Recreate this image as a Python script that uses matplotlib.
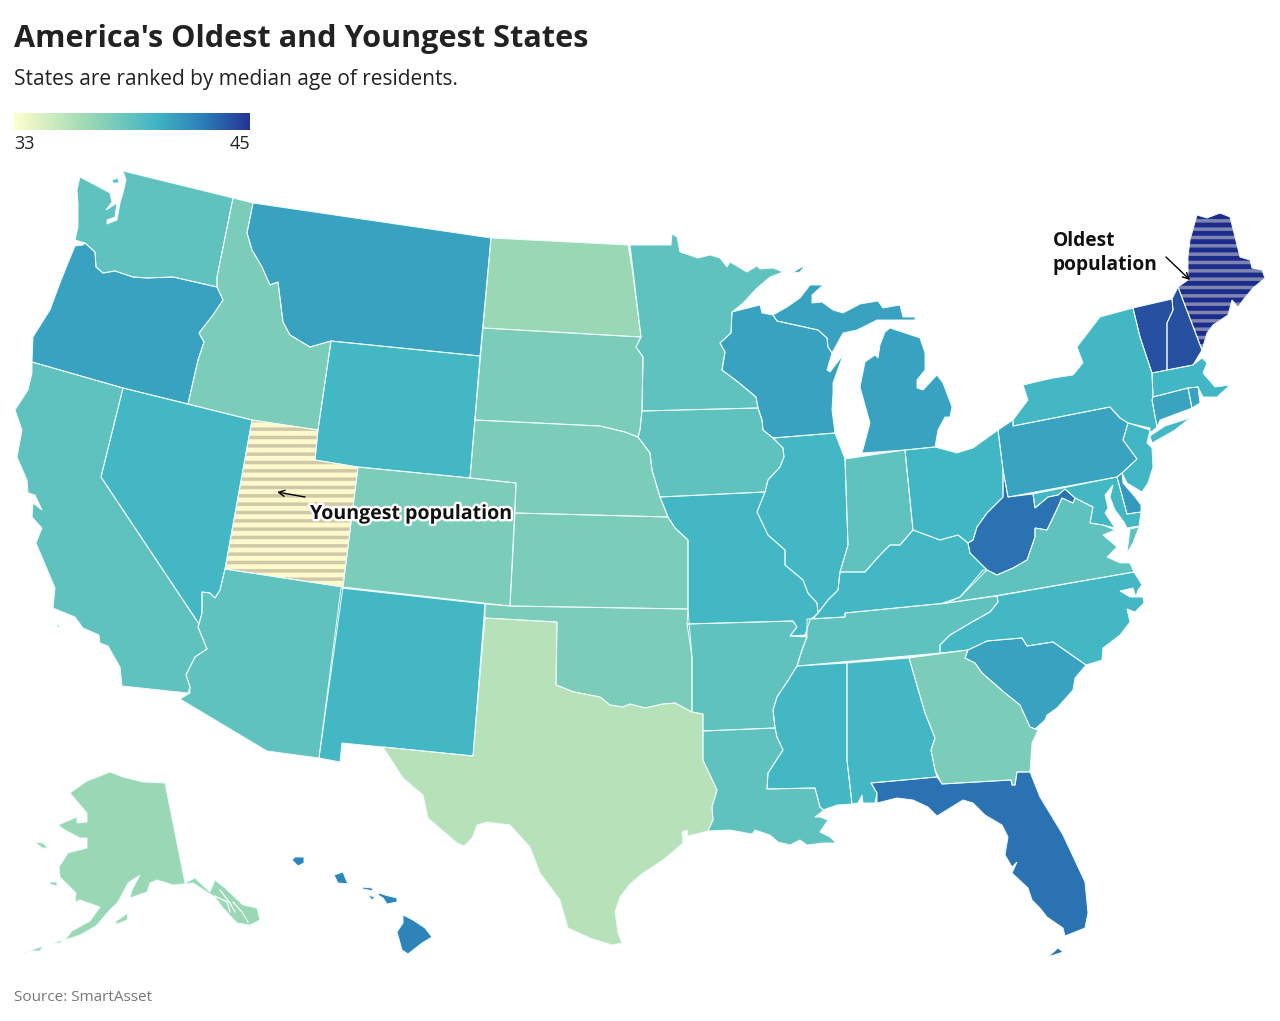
import numpy as np
import matplotlib
matplotlib.use('Agg')
import matplotlib.pyplot as plt
import matplotlib.patheffects as pe
from matplotlib.colors import LinearSegmentedColormap, Normalize
from matplotlib.patches import Polygon

plt.rcParams['font.family'] = ['Open Sans', 'DejaVu Sans']
plt.rcParams['hatch.linewidth'] = 2.5

# Median age per state
state_names = ['WA', 'OR', 'CA', 'NV', 'ID', 'MT', 'WY', 'UT', 'AZ', 'CO', 'NM', 'ND', 'SD', 'NE', 'KS', 'OK',
               'TX', 'MN', 'IA', 'MO', 'AR', 'LA', 'WI', 'IL', 'MI', 'IN', 'OH', 'KY', 'TN', 'MS', 'AL', 'GA',
               'FL', 'SC', 'NC', 'VA', 'WV', 'MD', 'DE', 'PA', 'NJ', 'NY', 'CT', 'RI', 'MA', 'VT', 'NH', 'ME',
               'AK', 'HI']
median_age = [39.0, 41.1, 39.0, 40.1, 38.0, 41.1, 40.1, 33.0, 39.0, 38.0, 40.1, 36.9, 38.0, 38.0, 38.0, 38.0,
              35.8, 39.0, 39.0, 40.1, 39.0, 39.0, 41.1, 40.1, 41.1, 39.0, 40.2, 40.1, 39.0, 40.1, 40.1, 38.0,
              43.0, 41.1, 40.1, 39.0, 43.0, 40.1, 41.5, 41.0, 40.2, 40.1, 41.0, 41.0, 40.2, 44.1, 44.1, 45.0,
              36.9, 42.4]

legend_min = 33
legend_max = 45
hatched_fill = {'UT': ('#fff9cb', '#cfc9a9'), 'ME': ('#1c2c8c', '#8085b0')}

# State outlines in reference pixels (no geo data available offline)
outlines = {
    'WA': [[(80, 177), (110, 193), (112, 202), (106, 210), (117, 203), (115, 217), (107, 220), (107, 224), (117, 220),
            (120, 203), (123, 193), (126, 180), (123, 171), (233, 198), (217, 277), (217, 287), (173, 277), (147, 278),
            (133, 277), (115, 271), (103, 273), (96, 267), (95, 252), (85, 243), (75, 240), (78, 227), (78, 203),
            (77, 190)],
           [(112, 180), (118, 178), (119, 183), (113, 183)]],
    'OR': [[(75, 246), (83, 245), (85, 243), (95, 252), (96, 267), (103, 273), (115, 271), (133, 277), (147, 278),
            (173, 277), (217, 287), (223, 300), (213, 315), (199, 333), (204, 342), (198, 360), (188, 404), (123, 388),
            (32, 362), (33, 337), (50, 310), (60, 283), (68, 263)]],
    'CA': [[(32, 362), (123, 388), (101, 477), (199, 624), (198, 627), (207, 649), (195, 657), (186, 675), (190, 687),
            (188, 693), (122, 686), (120, 667), (108, 646), (100, 643), (99, 635), (83, 628), (75, 617), (53, 608),
            (55, 588), (36, 543), (42, 528), (32, 517), (33, 503), (42, 510), (35, 495), (28, 493), (27, 480), (17, 457),
            (22, 430), (15, 410), (28, 390), (32, 373)],
           [(57, 625), (60, 625), (58, 628)]],
    'NV': [[(123, 388), (252, 420), (225, 569), (220, 590), (215, 598), (210, 593), (202, 592), (202, 613), (199, 624),
            (101, 477)]],
    'ID': [[(233, 198), (253, 203), (247, 233), (252, 250), (262, 267), (270, 285), (278, 282), (283, 322), (290, 335),
            (310, 347), (331, 341), (318, 430), (252, 420), (188, 404), (198, 360), (204, 342), (199, 333), (213, 315),
            (223, 300), (217, 287), (217, 277)]],
    'MT': [[(253, 203), (491, 238), (480, 356), (331, 341), (310, 347), (290, 335), (283, 322), (278, 282), (270, 285),
            (262, 267), (252, 250), (247, 233)]],
    'WY': [[(331, 341), (480, 356), (470, 478), (358, 467), (315, 460), (318, 430)]],
    'UT': [[(252, 420), (318, 430), (315, 460), (358, 467), (343, 587), (225, 569)]],
    'AZ': [[(225, 569), (343, 587), (319, 758), (267, 751), (180, 699), (190, 693), (190, 687), (186, 675), (195, 657),
            (207, 649), (198, 627), (202, 613), (202, 592), (210, 593), (215, 598), (220, 590)]],
    'CO': [[(358, 467), (470, 478), (516, 483), (510, 606), (343, 587)]],
    'NM': [[(341, 588), (485, 604), (473, 756), (383, 747), (342, 743), (340, 762), (319, 758)]],
    'ND': [[(491, 238), (628, 245), (632, 268), (641, 337), (483, 328)]],
    'SD': [[(483, 328), (641, 337), (636, 347), (643, 357), (642, 411), (640, 430), (638, 437), (625, 432), (600, 426),
            (475, 420)]],
    'NE': [[(475, 420), (600, 426), (625, 432), (638, 437), (650, 453), (652, 470), (660, 497), (668, 517), (515, 513),
            (516, 483), (470, 478)]],
    'KS': [[(515, 513), (668, 517), (675, 528), (688, 540), (688, 609), (510, 606)]],
    'OK': [[(485, 604), (510, 606), (688, 609), (692, 657), (692, 712), (675, 703), (663, 704), (645, 708), (630, 704),
            (623, 707), (610, 705), (600, 697), (574, 692), (556, 685), (557, 622), (485, 618)]],
    'TX': [[(485, 618), (557, 622), (556, 685), (574, 692), (600, 697), (610, 705), (623, 707), (630, 704), (645, 708),
            (663, 704), (675, 703), (692, 712), (703, 714), (703, 760), (717, 790), (712, 807), (713, 820), (708, 831),
            (688, 836), (687, 830), (682, 832), (683, 843), (663, 860), (643, 873), (630, 884), (620, 897), (615, 912),
            (618, 933), (622, 943), (612, 945), (590, 938), (568, 928), (560, 900), (540, 873), (530, 847), (510, 825),
            (487, 822), (477, 825), (472, 838), (464, 846), (457, 843), (428, 818), (423, 795), (403, 778), (383, 747),
            (473, 756)]],
    'MN': [[(630, 245), (671, 245), (672, 234), (677, 237), (680, 252), (698, 258), (710, 255), (720, 258), (727, 267),
            (730, 262), (747, 272), (757, 266), (760, 269), (773, 268), (783, 272), (770, 277), (757, 288), (743, 303),
            (732, 312), (731, 333), (720, 343), (725, 352), (722, 370), (738, 382), (756, 397), (758, 408), (642, 411),
            (643, 357), (636, 347), (641, 337), (635, 287)]],
    'IA': [[(642, 411), (758, 408), (762, 420), (763, 430), (773, 438), (783, 448), (784, 457), (780, 467), (768, 480),
            (765, 492), (660, 497), (652, 470), (650, 453), (638, 437), (640, 430)]],
    'MO': [[(660, 497), (765, 492), (757, 512), (768, 535), (785, 550), (785, 565), (803, 580), (808, 593), (817, 603),
            (818, 613), (810, 620), (805, 635), (790, 636), (797, 627), (793, 621), (687, 624), (688, 609), (688, 540),
            (675, 528), (668, 517)]],
    'AR': [[(687, 624), (793, 621), (797, 627), (790, 636), (807, 637), (802, 650), (797, 666), (787, 682), (777, 697),
            (773, 710), (775, 728), (703, 731), (703, 714), (692, 712), (692, 657)]],
    'LA': [[(703, 731), (775, 728), (777, 737), (783, 750), (768, 773), (767, 789), (815, 788), (820, 807), (824, 810),
            (815, 817), (820, 817), (828, 820), (820, 832), (830, 837), (836, 843), (823, 843), (807, 845), (800, 840),
            (790, 845), (778, 842), (770, 835), (755, 830), (752, 834), (730, 830), (708, 831), (713, 820), (712, 807),
            (717, 790), (703, 760)]],
    'WI': [[(732, 312), (760, 305), (762, 313), (773, 315), (777, 321), (818, 330), (827, 338), (828, 347), (832, 353),
            (827, 370), (830, 372), (843, 355), (833, 383), (833, 393), (832, 410), (835, 433), (773, 438), (763, 430),
            (762, 420), (758, 408), (756, 397), (738, 382), (722, 370), (725, 352), (720, 343), (731, 333)]],
    'MI': [[(773, 315), (787, 307), (800, 298), (810, 285), (823, 285), (812, 295), (812, 303), (822, 302), (833, 310),
            (843, 313), (860, 304), (878, 301), (883, 308), (900, 305), (903, 317), (915, 317), (915, 320), (890, 320),
            (877, 320), (857, 330), (843, 333), (832, 353), (828, 347), (827, 338), (818, 330), (777, 321)],
           [(890, 328), (920, 338), (925, 353), (925, 370), (917, 380), (917, 388), (923, 390), (937, 375), (943, 383),
            (952, 407), (950, 417), (945, 417), (938, 430), (935, 447), (905, 450), (862, 453), (870, 423), (860, 387),
            (865, 362), (875, 355), (878, 358), (880, 345), (885, 332)],
           [(792, 273), (805, 265), (800, 272)]],
    'IL': [[(773, 438), (835, 433), (845, 459), (848, 545), (840, 572), (838, 590), (828, 600), (818, 613), (817, 603),
            (808, 593), (803, 580), (785, 565), (785, 550), (768, 535), (757, 512), (765, 492), (768, 480), (780, 467),
            (784, 457), (783, 448)]],
    'IN': [[(845, 459), (905, 450), (913, 530), (900, 545), (890, 545), (880, 555), (865, 572), (840, 572), (848, 545)]],
    'OH': [[(905, 450), (935, 447), (957, 453), (973, 448), (998, 430), (1003, 470), (1003, 497), (987, 513), (977, 527),
            (973, 540), (968, 543), (958, 535), (940, 540), (913, 530)]],
    'KY': [[(813, 619), (818, 613), (828, 600), (838, 590), (840, 572), (865, 572), (880, 555), (890, 545), (900, 545),
            (913, 530), (940, 540), (958, 535), (968, 543), (970, 553), (987, 570), (960, 597), (947, 603), (845, 613),
            (845, 617)]],
    'TN': [[(807, 619), (845, 617), (845, 613), (947, 603), (997, 596), (998, 602), (990, 612), (972, 622), (950, 635),
            (940, 645), (940, 653), (797, 666), (802, 650), (807, 637)]],
    'MS': [[(797, 666), (847, 663), (847, 760), (852, 804), (837, 805), (823, 810), (820, 807), (815, 788), (767, 789),
            (768, 773), (783, 750), (777, 737), (775, 728), (773, 710), (777, 697), (787, 682)]],
    'AL': [[(847, 663), (909, 658), (925, 713), (935, 738), (931, 750), (935, 770), (937, 777), (871, 783), (877, 793),
            (875, 803), (863, 803), (862, 795), (858, 803), (852, 804), (847, 760)]],
    'GA': [[(909, 658), (968, 650), (965, 658), (975, 663), (982, 673), (1005, 693), (1020, 705), (1030, 727), (1038, 730),
            (1032, 743), (1030, 772), (1017, 772), (1015, 785), (1012, 785), (1011, 780), (942, 784), (935, 770),
            (931, 750), (935, 738), (925, 713)]],
    'FL': [[(871, 783), (937, 777), (942, 784), (1011, 780), (1012, 785), (1015, 785), (1017, 772), (1030, 772),
            (1040, 797), (1063, 835), (1085, 882), (1088, 913), (1085, 928), (1065, 936), (1063, 928), (1047, 917),
            (1040, 908), (1032, 900), (1028, 888), (1012, 873), (1017, 862), (1012, 867), (1005, 855), (1008, 837),
            (1002, 825), (985, 815), (973, 803), (963, 800), (950, 808), (937, 816), (928, 807), (913, 800), (897, 798),
            (877, 803), (877, 793)],
           [(1048, 957), (1058, 948), (1063, 952)]],
    'SC': [[(968, 650), (987, 641), (1022, 638), (1027, 646), (1053, 642), (1086, 665), (1075, 678), (1073, 690),
            (1057, 708), (1047, 715), (1045, 720), (1035, 729), (1030, 727), (1020, 705), (1005, 693), (982, 673),
            (975, 663), (965, 658)]],
    'NC': [[(997, 596), (1134, 572), (1142, 585), (1138, 590), (1136, 597), (1133, 588), (1120, 591), (1130, 597),
            (1143, 597), (1144, 603), (1135, 612), (1127, 609), (1130, 622), (1120, 635), (1103, 648), (1102, 660),
            (1086, 665), (1053, 642), (1027, 646), (1022, 638), (987, 641), (968, 650), (940, 653), (940, 645), (950, 635),
            (972, 622), (990, 612), (998, 602)]],
    'VA': [[(940, 604), (960, 597), (983, 570), (987, 570), (997, 575), (1013, 568), (1027, 560), (1035, 537), (1035, 528),
            (1047, 530), (1058, 507), (1062, 498), (1073, 503), (1075, 498), (1093, 507), (1090, 523), (1103, 525),
            (1115, 530), (1103, 535), (1117, 547), (1107, 557), (1120, 563), (1130, 563), (1134, 572), (1000, 595)],
           [(1139, 527), (1130, 529), (1127, 553), (1133, 543)]],
    'WV': [[(1003, 470), (1008, 497), (1033, 494), (1035, 508), (1048, 497), (1058, 495), (1065, 489), (1075, 498),
            (1073, 503), (1062, 498), (1058, 507), (1047, 530), (1035, 528), (1035, 537), (1027, 560), (1013, 568),
            (997, 575), (987, 570), (970, 553), (968, 543), (973, 540), (977, 527), (987, 513), (1003, 497)]],
    'MD': [[(1033, 494), (1117, 477), (1127, 514), (1141, 512), (1139, 526), (1127, 528), (1124, 522), (1115, 510),
            (1110, 497), (1113, 485), (1105, 495), (1108, 508), (1105, 513), (1115, 528), (1103, 525), (1090, 523),
            (1093, 507), (1075, 498), (1065, 489), (1058, 495), (1048, 497), (1035, 508)]],
    'DE': [[(1117, 477), (1122, 473), (1123, 483), (1135, 497), (1141, 505), (1141, 512), (1127, 514)]],
    'PA': [[(998, 430), (1013, 420), (1013, 426), (1110, 407), (1120, 418), (1128, 423), (1123, 440), (1137, 459),
            (1122, 473), (1117, 477), (1008, 497), (1003, 470)]],
    'NJ': [[(1128, 423), (1150, 430), (1147, 443), (1152, 448), (1153, 467), (1148, 483), (1142, 492), (1127, 483),
            (1122, 473), (1137, 459), (1123, 440)]],
    'NY': [[(1013, 420), (1028, 400), (1023, 385), (1053, 378), (1073, 375), (1083, 363), (1077, 347), (1100, 317),
            (1133, 308), (1140, 337), (1152, 373), (1153, 397), (1152, 400), (1157, 427), (1150, 433), (1150, 428),
            (1128, 423), (1120, 418), (1110, 407), (1013, 426)],
           [(1150, 436), (1165, 426), (1190, 418), (1175, 430), (1152, 443)]],
    'CT': [[(1153, 397), (1188, 388), (1192, 408), (1160, 420), (1157, 427), (1152, 400)]],
    'RI': [[(1188, 388), (1198, 387), (1200, 403), (1192, 408)]],
    'MA': [[(1152, 373), (1193, 365), (1202, 358), (1207, 363), (1203, 373), (1215, 387), (1230, 385), (1217, 397),
            (1208, 397), (1203, 397), (1198, 387), (1188, 388), (1153, 397)]],
    'VT': [[(1133, 308), (1172, 299), (1173, 310), (1167, 323), (1167, 370), (1152, 373), (1140, 337)]],
    'NH': [[(1172, 299), (1178, 287), (1202, 350), (1193, 365), (1167, 370), (1167, 323), (1173, 310)]],
    'ME': [[(1178, 287), (1188, 280), (1188, 257), (1190, 240), (1197, 215), (1207, 218), (1220, 213), (1230, 217),
            (1240, 257), (1250, 260), (1252, 268), (1262, 270), (1265, 278), (1253, 288), (1243, 300), (1238, 307),
            (1232, 300), (1228, 315), (1213, 325), (1207, 333), (1202, 350)]],
    'AK': [[(110, 772), (123, 777), (143, 782), (165, 783), (185, 883), (195, 878), (210, 892), (215, 880), (225, 888),
            (243, 905), (257, 908), (260, 920), (250, 925), (237, 923), (223, 908), (215, 897), (207, 892), (193, 883),
            (173, 885), (157, 880), (150, 883), (147, 892), (130, 898), (132, 890), (140, 875), (128, 883), (118, 902),
            (108, 912), (96, 926), (80, 935), (65, 940), (72, 931), (90, 921), (100, 907), (80, 900), (75, 902), (76, 893),
            (60, 877), (59, 867), (68, 853), (87, 848), (87, 838), (80, 838), (65, 830), (58, 825), (77, 817), (77, 823),
            (87, 822), (87, 813), (70, 793), (87, 781), (100, 776)],
           [(52, 943), (63, 940), (60, 943)],
           [(24, 953), (43, 946), (40, 951), (30, 951)],
           [(115, 922), (128, 913), (127, 920), (117, 924)],
           [(50, 882), (57, 882), (57, 886), (50, 884)],
           [(35, 842), (43, 843), (48, 848), (42, 848)]],
    'HI': [[(292, 860), (295, 857), (304, 857), (304, 863), (298, 866)],
           [(334, 875), (343, 872), (347, 882), (351, 884), (338, 883)],
           [(362, 887), (372, 888), (373, 891), (363, 889)],
           [(368, 895), (375, 897), (372, 900)],
           [(379, 893), (385, 895), (397, 898), (397, 902), (387, 904), (383, 898), (378, 895)],
           [(403, 915), (413, 920), (425, 928), (432, 937), (422, 943), (408, 954), (402, 950), (397, 932), (403, 923)]],
}

# Water channels through the Alaska panhandle
ak_channels = [[(220, 890), (230, 903), (235, 912)],
               [(215, 896), (227, 902), (230, 912)],
               [(233, 902), (242, 912), (248, 922)]]


def main():
    cmap = LinearSegmentedColormap.from_list(
        'age', [(0, '#ffffcc'), (0.3, '#a1dab4'), (0.6, '#41b6c4'), (0.8, '#2c7fb8'), (1, '#253494')])
    norm = Normalize(legend_min, legend_max)

    fig = plt.figure(figsize=(12.8, 10.21), dpi=100)
    ax = fig.add_axes([0, 0, 1, 1])

    # Colour legend, imshow first since it resets the limits
    ramp = np.linspace(legend_min, legend_max, 256).reshape(1, -1)
    ax.imshow(ramp, cmap=cmap, norm=norm, extent=(14, 250, 130, 113), aspect='auto', zorder=3)
    ax.set_xlim(0, 1280)
    ax.set_ylim(1021, 0)
    ax.axis('off')

    # Fill the states, then light borders on top
    for name, age in zip(state_names, median_age):
        for ring in outlines[name]:
            if name in hatched_fill:
                base, stripe = hatched_fill[name]
                ax.add_patch(Polygon(ring, facecolor=base, edgecolor=stripe, hatch='--', linewidth=0, zorder=1))
            else:
                ax.add_patch(Polygon(ring, facecolor=cmap(norm(age)), edgecolor='none', zorder=1))
            ax.add_patch(Polygon(ring, fill=False, edgecolor='#eefcfb', linewidth=0.7, zorder=2))
    for channel in ak_channels:
        xs, ys = zip(*channel)
        ax.plot(xs, ys, color='white', linewidth=0.9, zorder=2)

    # Titles
    ax.text(14, 47, "America's Oldest and Youngest States", fontsize=22.1, fontweight='bold', color='#222222')
    ax.text(14, 85, 'States are ranked by median age of residents.', fontsize=15, color='#222222')
    ax.text(14, 1001, 'Source: SmartAsset', fontsize=11, color='#777777')

    ax.text(14, 149, str(legend_min), fontsize=13, color='#222222')
    ax.text(250, 149, str(legend_max), fontsize=13, color='#222222', ha='right')

    # Annotations
    arrow = dict(arrowstyle='->', color='black', linewidth=1, mutation_scale=11, shrinkA=0, shrinkB=0)
    ax.annotate('', xy=(277, 492), xytext=(305, 497), arrowprops=arrow, zorder=4)
    ax.annotate('', xy=(1190, 280), xytext=(1166, 257), arrowprops=arrow, zorder=4)
    ax.text(310, 519, 'Youngest population', fontsize=14.1, fontweight='bold', color='#111111', zorder=5,
            path_effects=[pe.withStroke(linewidth=3.5, foreground='white')])
    ax.text(1053, 246, 'Oldest', fontsize=13.8, fontweight='bold', color='#111111', zorder=5)
    ax.text(1053, 270, 'population', fontsize=13.8, fontweight='bold', color='#111111', zorder=5)

    fig.savefig('out.png', dpi=100)
    plt.close(fig)


if __name__ == "__main__":
    main()
